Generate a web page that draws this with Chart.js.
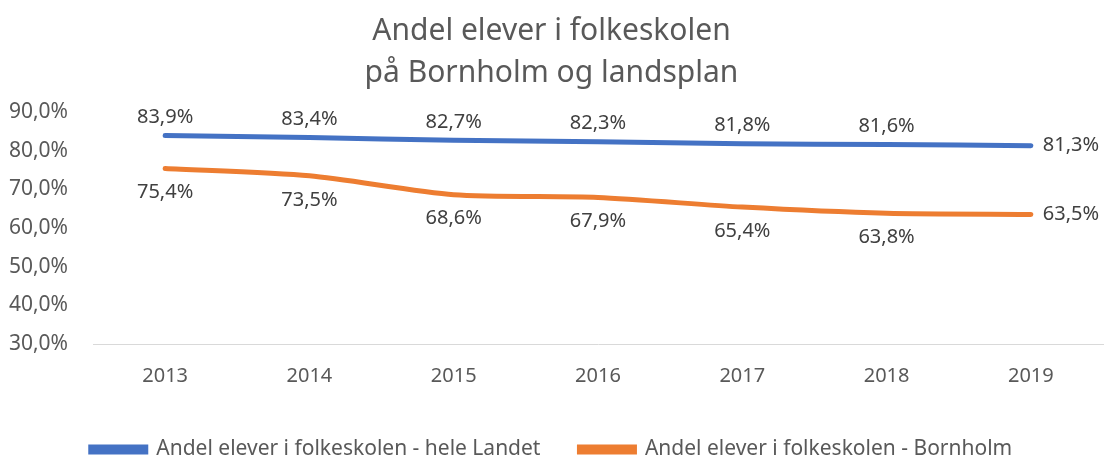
<!DOCTYPE html>
<html>
<head>
<meta charset="utf-8">
<script src="https://cdn.jsdelivr.net/npm/chart.js@4"></script>
<style>
  html, body { margin: 0; padding: 0; background: #fff; }
  #wrap { width: 1116px; height: 459px; }
</style>
</head>
<body>
<div id="wrap"><canvas id="grafik"></canvas></div>
<script>
const aar = ['2013', '2014', '2015', '2016', '2017', '2018', '2019'];
const heleLandet = [83.9, 83.4, 82.7, 82.3, 81.8, 81.6, 81.3];
const bornholm = [75.4, 73.5, 68.6, 67.9, 65.4, 63.8, 63.5];
const titel = ['Andel elever i folkeskolen', 'på Bornholm og landsplan'];
const serieNavne = ['Andel elever i folkeskolen - hele Landet', 'Andel elever i folkeskolen - Bornholm'];

const skrift = '"Noto Sans", "Open Sans", sans-serif';

function pct(v) {
    return v.toFixed(1).replace('.', ',') + '%';
}

// tegner værdierne ved punkterne (ingen datalabels plugin til rådighed)
const vaerdiEtiketter = {
    id: 'vaerdiEtiketter',
    afterDatasetsDraw(chart) {
        const ctx = chart.ctx;
        ctx.save();
        ctx.font = '20px ' + skrift;
        ctx.fillStyle = '#404040';
        ctx.textBaseline = 'middle';
        chart.data.datasets.forEach((ds, i) => {
            const meta = chart.getDatasetMeta(i);
            meta.data.forEach((pt, j) => {
                const tekst = pct(ds.data[j]);
                if (j === ds.data.length - 1) {
                    ctx.textAlign = 'left';
                    ctx.fillText(tekst, pt.x + 12, pt.y);
                } else {
                    ctx.textAlign = 'center';
                    ctx.fillText(tekst, pt.x, i === 0 ? pt.y - 18 : pt.y + 24);
                }
            });
        });
        ctx.restore();
    }
};

const ctx = document.getElementById('grafik').getContext('2d');
const grafik = new Chart(ctx, {
    type: 'line',
    data: {
        labels: aar,
        datasets: [{
            label: serieNavne[0],
            data: heleLandet,
            borderColor: '#4472c4',
            backgroundColor: '#4472c4',
            borderWidth: 5,
            borderCapStyle: 'round',
            pointRadius: 0,
            tension: 0.25
        }, {
            label: serieNavne[1],
            data: bornholm,
            borderColor: '#ed7d31',
            backgroundColor: '#ed7d31',
            borderWidth: 5,
            borderCapStyle: 'round',
            pointRadius: 0,
            tension: 0.25
        }]
    },
    options: {
        responsive: true,
        maintainAspectRatio: false,
        animation: false,
        layout: {
            padding: { left: 0, right: 13, top: 8, bottom: -11 }
        },
        plugins: {
            title: {
                display: true,
                text: titel,
                color: '#595959',
                font: { family: skrift, size: 30, weight: 'normal', lineHeight: 1.4 },
                padding: { top: 2, bottom: 18 }
            },
            legend: {
                position: 'bottom',
                labels: {
                    color: '#595959',
                    font: { family: skrift, size: 21 },
                    boxWidth: 55,
                    boxHeight: 5,
                    padding: 39
                }
            },
            tooltip: { enabled: false }
        },
        scales: {
            x: {
                offset: true,
                grid: { display: false },
                border: { color: '#d9d9d9', width: 1 },
                ticks: { color: '#595959', font: { family: skrift, size: 20 }, padding: 12 }
            },
            y: {
                min: 30,
                max: 90,
                grid: { display: false },
                border: { display: false },
                afterFit: scale => { scale.width = 93; },
                ticks: {
                    stepSize: 10,
                    color: '#595959',
                    font: { family: skrift, size: 21 },
                    padding: 17,
                    callback: v => pct(v)
                }
            }
        }
    },
    plugins: [vaerdiEtiketter]
});
</script>
</body>
</html>
